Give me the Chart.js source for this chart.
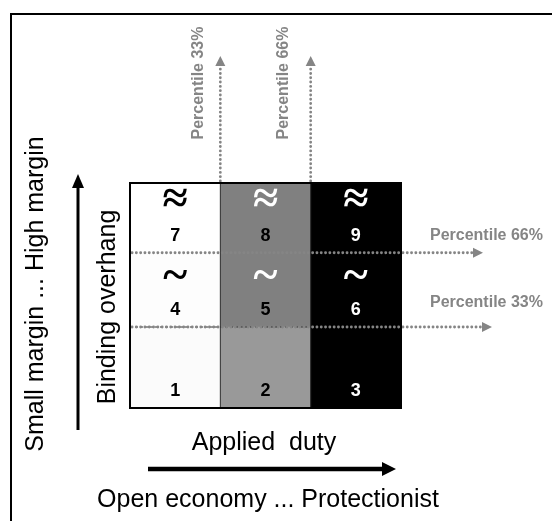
<!DOCTYPE html>
<html>
<head>
<meta charset="utf-8">
<script src="https://cdn.jsdelivr.net/npm/chart.js@4"></script>
<style>
  body { margin: 0; background: #fff; }
  canvas { display: block; }
</style>
</head>
<body>
<canvas id="matrix" width="552" height="521"></canvas>
<script>
// applied duty terciles (x) and binding overhang bands (y, bottom to top)
const dutyLevels = ['Low', 'Medium', 'High'];
const overhangBands = [36, 33, 31];
const cellIds = [[1, 2, 3], [4, 5, 6], [7, 8, 9]];
const bandMarks = ['', '~', '≈'];
const bandNames = ['Low overhang', 'Mid overhang', 'High overhang'];
const percentileNames = ['Percentile 33%', 'Percentile 66%'];

const cellColors = [
  ['#fbfbfb', '#999999', '#000000'],
  ['#fdfdfd', '#808080', '#000000'],
  ['#ffffff', '#808080', '#000000']
];
const numberInk = ['#000', '#000', '#fff'];
const markInk = ['#000', '#fff', '#fff'];
const GRAY = '#858585';

function dotted(ctx, x1, y1, x2, y2) {
  ctx.save();
  ctx.strokeStyle = GRAY;
  ctx.lineWidth = 2.8;
  ctx.lineCap = 'round';
  ctx.setLineDash([0.1, 4.2]);
  ctx.beginPath();
  ctx.moveTo(x1, y1);
  ctx.lineTo(x2, y2);
  ctx.stroke();
  ctx.restore();
}

function head(ctx, x, y, dir, len, half, color) {
  // dir: 'up' or 'right'
  ctx.fillStyle = color;
  ctx.beginPath();
  if (dir === 'up') {
    ctx.moveTo(x, y);
    ctx.lineTo(x - half, y + len);
    ctx.lineTo(x + half, y + len);
  } else {
    ctx.moveTo(x, y);
    ctx.lineTo(x - len, y - half);
    ctx.lineTo(x - len, y + half);
  }
  ctx.closePath();
  ctx.fill();
}

function rotText(ctx, txt, x, y) {
  ctx.save();
  ctx.translate(x, y);
  ctx.rotate(-Math.PI / 2);
  ctx.fillText(txt, 0, 0);
  ctx.restore();
}

const matrixDecor = {
  id: 'matrixDecor',
  afterDatasetsDraw(chart) {
    const ctx = chart.ctx;
    const a = chart.chartArea;
    const xs = chart.scales.x, ys = chart.scales.y;

    // outer frame
    ctx.save();
    ctx.strokeStyle = '#000';
    ctx.lineWidth = 2;
    ctx.strokeRect(11, 14, 600, 600);

    // column and band boundaries
    const colX = [0, 1].map(i => (xs.getPixelForValue(i) + xs.getPixelForValue(i + 1)) / 2);
    let acc = 0;
    const bandY = overhangBands.slice(0, 2).map(h => ys.getPixelForValue(acc += h));

    ctx.strokeStyle = '#333';
    ctx.lineWidth = 1;
    colX.forEach(x => {
      ctx.beginPath();
      ctx.moveTo(x, a.top);
      ctx.lineTo(x, a.bottom);
      ctx.stroke();
    });
    ctx.setLineDash([3, 2]);
    ctx.beginPath();
    ctx.moveTo(a.left, bandY[0]);
    ctx.lineTo(colX[1], bandY[0]);
    ctx.stroke();
    ctx.setLineDash([]);

    // vertical percentile arrows (applied duty)
    colX.forEach(x => {
      dotted(ctx, x, a.top - 2, x, 66);
      head(ctx, x, 56, 'up', 10, 5, GRAY);
    });
    // horizontal percentile arrows (binding overhang)
    const tips = [492, 483];
    bandY.forEach((y, i) => {
      dotted(ctx, a.left + 2, y, tips[i] - 8, y);
      head(ctx, tips[i], y, 'right', 10, 5, GRAY);
    });

    // grid outline
    ctx.strokeStyle = '#000';
    ctx.lineWidth = 2;
    ctx.strokeRect(a.left, a.top, a.right - a.left, a.bottom - a.top);

    // percentile labels
    ctx.fillStyle = GRAY;
    ctx.font = 'bold 16px "Liberation Sans"';
    ctx.textAlign = 'center';
    ctx.textBaseline = 'middle';
    rotText(ctx, percentileNames[0], colX[0] - 22, 83);
    rotText(ctx, percentileNames[1], colX[1] - 27, 83);
    ctx.textAlign = 'left';
    ctx.fillText(percentileNames[1], 430, 236);
    ctx.fillText(percentileNames[0], 430, 303);

    // cell marks and numbers
    ctx.textAlign = 'center';
    overhangBands.forEach((h, r) => {
      chart.getDatasetMeta(r).data.forEach((bar, c) => {
        ctx.fillStyle = numberInk[c];
        ctx.font = 'bold 18px "Liberation Sans"';
        ctx.fillText(String(cellIds[r][c]), bar.x, bar.base - 17);
        if (bandMarks[r]) {
          ctx.fillStyle = markInk[c];
          ctx.font = 'bold 46px "Liberation Serif"';
          ctx.fillText(bandMarks[r], bar.x, bar.y + (r === 2 ? 18 : 25));
        }
      });
    });

    // axis arrows
    ctx.strokeStyle = '#000';
    ctx.lineWidth = 3;
    ctx.beginPath();
    ctx.moveTo(a.left - 52, 430);
    ctx.lineTo(a.left - 52, 185);
    ctx.stroke();
    head(ctx, a.left - 52, 174, 'up', 14, 6, '#000');
    ctx.lineWidth = 4.5;
    ctx.beginPath();
    ctx.moveTo(148, a.bottom + 61);
    ctx.lineTo(383, a.bottom + 61);
    ctx.stroke();
    head(ctx, 396, a.bottom + 61, 'right', 14, 7, '#000');

    // axis titles
    ctx.fillStyle = '#000';
    ctx.font = '25px "Liberation Sans"';
    ctx.textAlign = 'center';
    rotText(ctx, 'Binding overhang', 108, 307);
    rotText(ctx, 'Small margin ... High margin', 36, 294);
    ctx.fillText('Applied  duty', 264, 443);
    ctx.fillText('Open economy ... Protectionist', 268, 500);
    ctx.restore();
  }
};

new Chart(document.getElementById('matrix'), {
  type: 'bar',
  data: {
    labels: dutyLevels,
    datasets: overhangBands.map((h, r) => ({
      label: bandNames[r],
      data: dutyLevels.map(() => h),
      backgroundColor: cellColors[r],
      borderWidth: 0,
      barPercentage: 1,
      categoryPercentage: 1
    }))
  },
  options: {
    responsive: false,
    animation: false,
    layout: { padding: { left: 130, right: 151, top: 183, bottom: 113 } },
    plugins: { legend: { display: false }, tooltip: { enabled: false } },
    scales: {
      x: { stacked: true, display: false },
      y: { stacked: true, display: false, min: 0, max: 100 }
    }
  },
  plugins: [matrixDecor]
});
</script>
</body>
</html>
